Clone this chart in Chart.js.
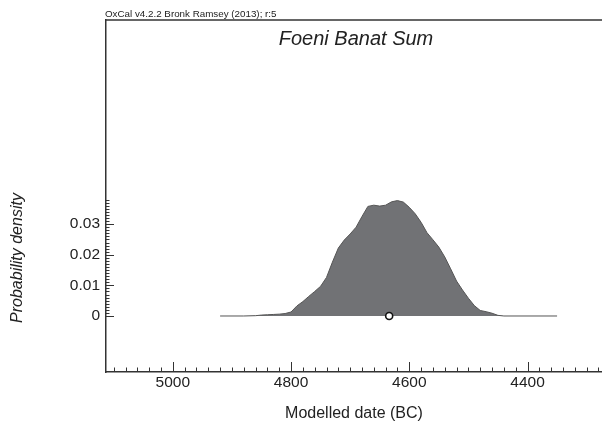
<!DOCTYPE html>
<html>
<head>
<meta charset="utf-8">
<script src="https://cdn.jsdelivr.net/npm/chart.js@4/dist/chart.umd.min.js"></script>
<style>
html,body{margin:0;padding:0;background:#fff;}
#wrap{width:602px;height:423px;position:relative;}
</style>
</head>
<body>
<div id="wrap"><canvas id="c" width="602" height="423"></canvas></div>
<script>
// ---- data ----
const headerText = "OxCal v4.2.2 Bronk Ramsey (2013); r:5";
const chartTitle = "Foeni Banat Sum";
const xTitle = "Modelled date (BC)";
const yTitle = "Probability density";

const years = [4920, 4880, 4860, 4850, 4840, 4830, 4820, 4810, 4800, 4790, 4780, 4770, 4760, 4750, 4740, 4730, 4720, 4710, 4700, 4690, 4680, 4670, 4660, 4650, 4640, 4630, 4620, 4610, 4600, 4590, 4580, 4570, 4560, 4550, 4540, 4530, 4520, 4510, 4500, 4490, 4480, 4470, 4460, 4450, 4440, 4350];
const density = [0, 0, 0.0001, 0.0003, 0.0004, 0.0005, 0.0006, 0.0008, 0.0013, 0.0033, 0.0047, 0.0064, 0.0080, 0.0097, 0.0126, 0.0176, 0.0222, 0.0248, 0.0268, 0.0290, 0.0325, 0.0358, 0.0362, 0.0359, 0.0362, 0.0373, 0.0377, 0.0372, 0.0355, 0.0334, 0.0306, 0.0272, 0.0249, 0.0225, 0.0193, 0.0154, 0.0114, 0.0085, 0.0058, 0.0034, 0.0018, 0.0014, 0.0009, 0.0002, 0, 0];

const meanYear = [4634];
const meanDensity = [0];

const xTickValues = [5000, 4800, 4600, 4400];
const yTickValues = [0, 0.01, 0.02, 0.03];
const xMinorStep = 20;
const yMinorStep = 0.001;
const yMinorMax = 0.038;

const xMin = 4274, xMax = 5113;
const yMin = -0.0183, yMax = 0.0967;

// ---- styles ----
const FONT = "'Liberation Sans', Arial, Helvetica, sans-serif";
const TEXT = "#222";
const AXIS = "#333";

const decorPlugin = {
  id: 'decor',
  afterDraw(chart) {
    const ctx = chart.ctx;
    const xs = chart.scales.x, ys = chart.scales.y;
    const ca = chart.chartArea;
    ctx.save();
    // top frame line
    ctx.strokeStyle = AXIS;
    ctx.lineWidth = 1.5;
    ctx.beginPath();
    ctx.moveTo(ca.left - 0.75, ca.top);
    ctx.lineTo(ca.right, ca.top);
    ctx.stroke();
    // x ticks (inward)
    ctx.lineWidth = 1;
    for (let v = 4280; v <= 5100; v += xMinorStep) {
      const px = Math.round(xs.getPixelForValue(v)) + 0.5;
      if (px < ca.left || px > ca.right) continue;
      const major = v % 200 === 0;
      ctx.beginPath();
      ctx.moveTo(px, ca.bottom);
      ctx.lineTo(px, ca.bottom - (major ? 10 : 4.5));
      ctx.stroke();
    }
    // y ticks (inward)
    for (let i = 0; i <= Math.round(yMinorMax / yMinorStep); i++) {
      const v = i * yMinorStep;
      const py = Math.round(ys.getPixelForValue(v)) + 0.5;
      const major = i % 10 === 0;
      ctx.beginPath();
      ctx.moveTo(ca.left, py);
      ctx.lineTo(ca.left + (major ? 8 : 3.5), py);
      ctx.stroke();
    }
    // header
    ctx.fillStyle = TEXT;
    ctx.font = "9.8px " + FONT;
    ctx.textAlign = 'left';
    ctx.textBaseline = 'alphabetic';
    ctx.fillText(headerText, ca.left - 1, ca.top - 3);
    // chart title
    ctx.font = "italic 20px " + FONT;
    ctx.textAlign = 'center';
    ctx.fillText(chartTitle, 356, 45);
    // y title
    ctx.save();
    ctx.translate(18, 258);
    ctx.rotate(-Math.PI / 2);
    ctx.font = "italic 16px " + FONT;
    ctx.textAlign = 'center';
    ctx.textBaseline = 'middle';
    ctx.fillText(yTitle, 0, 0);
    ctx.restore();
    ctx.restore();
  }
};

new Chart(document.getElementById('c'), {
  type: 'line',
  data: {
    datasets: [
      {
        label: 'Sum',
        data: years.map((y, i) => ({x: y, y: density[i]})),
        fill: 'origin',
        backgroundColor: '#717275',
        borderColor: '#555',
        borderWidth: 1,
        pointRadius: 0,
        tension: 0,
        order: 2
      },
      {
        label: 'Mean',
        type: 'scatter',
        data: meanYear.map((y, i) => ({x: y, y: meanDensity[i]})),
        pointRadius: 3.5,
        pointBackgroundColor: '#fff',
        pointBorderColor: '#111',
        pointBorderWidth: 1.6,
        order: 1
      }
    ]
  },
  options: {
    responsive: false,
    animation: false,
    devicePixelRatio: 1,
    layout: {autoPadding: false, padding: {left: 0, right: 0, top: 20, bottom: 0}},
    plugins: {legend: {display: false}, tooltip: {enabled: false}, title: {display: false}},
    scales: {
      x: {
        type: 'linear',
        reverse: true,
        min: xMin,
        max: xMax,
        afterBuildTicks(s) { s.ticks = xTickValues.map(v => ({value: v})); },
        afterFit(s) { s.height = 51; s.paddingLeft = 0; s.paddingRight = 0; },
        grid: {display: false, drawTicks: false},
        border: {display: true, color: AXIS, width: 1.5},
        ticks: {
          padding: 1,
          color: TEXT,
          font: {family: FONT, size: 15.5},
          maxRotation: 0,
          autoSkip: false,
          callback: v => String(v)
        },
        title: {
          display: true,
          text: xTitle,
          color: TEXT,
          font: {family: FONT, size: 16},
          padding: {top: 0, bottom: 0}
        }
      },
      y: {
        type: 'linear',
        min: yMin,
        max: yMax,
        afterBuildTicks(s) { s.ticks = yTickValues.map(v => ({value: v})); },
        afterFit(s) { s.width = 106; s.paddingTop = 0; s.paddingBottom = 0; },
        grid: {display: false, drawTicks: false},
        border: {display: true, color: AXIS, width: 1.5},
        ticks: {
          padding: 6,
          color: TEXT,
          font: {family: FONT, size: 15.5},
          autoSkip: false,
          callback: v => (v === 0 ? '0' : v.toFixed(2))
        }
      }
    }
  },
  plugins: [decorPlugin]
});
</script>
</body>
</html>
